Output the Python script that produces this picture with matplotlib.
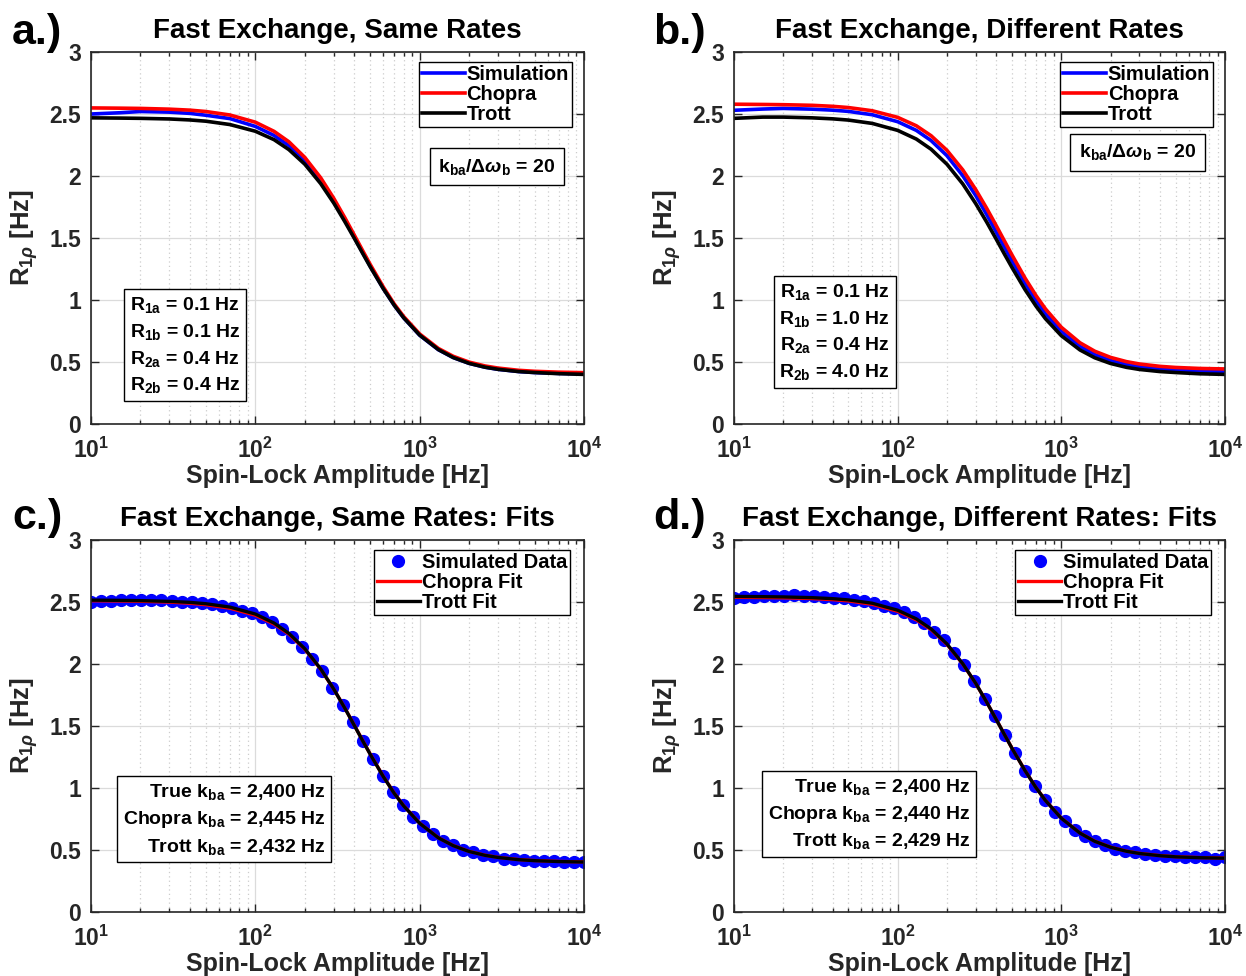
import numpy as np
import matplotlib
matplotlib.use("Agg")
import matplotlib.pyplot as plt
from matplotlib.ticker import FixedLocator, FuncFormatter, NullFormatter

# ---------------- data ----------------
# dense grid used for the model curves (Hz)
grid_hz = [10, 15, 20, 30, 40, 50, 70, 100, 130, 160, 200, 250, 300, 350, 400,
           450, 500, 600, 700, 800, 1000, 1300, 1600, 2000, 2500, 3000, 4000,
           5000, 7000, 10000]

# panel a: same relaxation rates
a_sim = [2.50, 2.51, 2.52, 2.515, 2.505, 2.49, 2.463, 2.40, 2.327, 2.245, 2.121,
         1.958, 1.797, 1.645, 1.506, 1.382, 1.273, 1.094, 0.958, 0.856, 0.716,
         0.599, 0.536, 0.489, 0.458, 0.441, 0.423, 0.415, 0.408, 0.404]
a_chopra = [2.549, 2.547, 2.545, 2.539, 2.531, 2.520, 2.492, 2.434, 2.360, 2.276,
            2.150, 1.985, 1.820, 1.665, 1.524, 1.398, 1.287, 1.106, 0.968, 0.866,
            0.726, 0.609, 0.546, 0.499, 0.468, 0.451, 0.433, 0.425, 0.418, 0.414]
a_trott = [2.469, 2.467, 2.465, 2.460, 2.452, 2.442, 2.415, 2.361, 2.293, 2.213,
           2.095, 1.938, 1.782, 1.633, 1.498, 1.376, 1.268, 1.092, 0.958, 0.856,
           0.717, 0.600, 0.536, 0.489, 0.458, 0.441, 0.423, 0.415, 0.406, 0.400]

# panel b: different relaxation rates
b_sim = [2.53, 2.54, 2.545, 2.539, 2.531, 2.521, 2.494, 2.438, 2.368, 2.286,
         2.164, 2.002, 1.842, 1.689, 1.549, 1.424, 1.313, 1.132, 0.994, 0.889,
         0.746, 0.626, 0.560, 0.512, 0.480, 0.462, 0.444, 0.435, 0.428, 0.424]
b_chopra = [2.579, 2.577, 2.575, 2.570, 2.562, 2.552, 2.526, 2.473, 2.405, 2.325,
            2.207, 2.049, 1.890, 1.739, 1.600, 1.474, 1.362, 1.177, 1.036, 0.928,
            0.780, 0.655, 0.587, 0.537, 0.503, 0.484, 0.465, 0.456, 0.448, 0.444]
b_trott = [2.465, 2.475, 2.475, 2.469, 2.461, 2.451, 2.424, 2.368, 2.298, 2.216,
           2.095, 1.936, 1.777, 1.628, 1.491, 1.368, 1.261, 1.084, 0.951, 0.849,
           0.712, 0.597, 0.534, 0.488, 0.457, 0.440, 0.423, 0.415, 0.405, 0.400]

# simulated data points (log-spaced spin-lock amplitudes, Hz)
pts_hz = [10.0, 11.5, 13.3, 15.3, 17.6, 20.2, 23.3, 26.8, 30.9, 35.6,
          40.9, 47.1, 54.3, 62.5, 72.0, 82.9, 95.4, 109.9, 126.5, 145.6,
          167.7, 193.1, 222.3, 256.0, 294.7, 339.3, 390.7, 449.8, 518.0, 596.4,
          686.6, 790.6, 910.3, 1048.1, 1206.8, 1389.5, 1599.9, 1842.1, 2120.9, 2442.1,
          2811.8, 3237.5, 3727.6, 4291.9, 4941.7, 5689.9, 6551.3, 7543.1, 8685.1, 10000.0]
c_pts = [2.50, 2.51, 2.51, 2.52, 2.52, 2.52, 2.52, 2.52, 2.51, 2.50,
         2.50, 2.49, 2.48, 2.47, 2.45, 2.43, 2.41, 2.38, 2.34, 2.28,
         2.22, 2.14, 2.04, 1.94, 1.81, 1.67, 1.53, 1.38, 1.23, 1.10,
         0.97, 0.86, 0.77, 0.69, 0.63, 0.57, 0.54, 0.50, 0.48, 0.46,
         0.45, 0.43, 0.43, 0.42, 0.41, 0.41, 0.41, 0.40, 0.40, 0.40]
d_pts = [2.53, 2.54, 2.54, 2.55, 2.55, 2.55, 2.56, 2.55, 2.55, 2.54,
         2.53, 2.53, 2.52, 2.51, 2.49, 2.47, 2.45, 2.42, 2.38, 2.33,
         2.26, 2.19, 2.09, 1.99, 1.86, 1.72, 1.58, 1.43, 1.28, 1.14,
         1.02, 0.90, 0.81, 0.73, 0.66, 0.61, 0.57, 0.54, 0.51, 0.49,
         0.48, 0.47, 0.46, 0.45, 0.45, 0.44, 0.44, 0.44, 0.43, 0.44]

# fitted curves
c_chopra_fit = [2.510, 2.508, 2.506, 2.499, 2.490, 2.478, 2.450, 2.393, 2.322, 2.241,
                2.119, 1.958, 1.798, 1.646, 1.507, 1.383, 1.274, 1.095, 0.959, 0.857,
                0.716, 0.599, 0.536, 0.489, 0.458, 0.441, 0.423, 0.415, 0.408, 0.404]
c_trott_fit = [2.515, 2.513, 2.511, 2.505, 2.497, 2.486, 2.459, 2.403, 2.330, 2.247,
               2.123, 1.960, 1.798, 1.645, 1.505, 1.381, 1.272, 1.093, 0.957, 0.855,
               0.715, 0.598, 0.535, 0.488, 0.457, 0.440, 0.422, 0.414, 0.407, 0.403]
d_chopra_fit = [2.538, 2.536, 2.534, 2.528, 2.519, 2.509, 2.481, 2.425, 2.356, 2.277,
                2.158, 2.000, 1.843, 1.692, 1.554, 1.430, 1.320, 1.141, 1.004, 0.900,
                0.757, 0.637, 0.571, 0.523, 0.491, 0.473, 0.455, 0.446, 0.439, 0.435]
d_trott_fit = [2.545, 2.543, 2.541, 2.535, 2.527, 2.517, 2.490, 2.434, 2.364, 2.283,
               2.162, 2.002, 1.844, 1.692, 1.553, 1.429, 1.319, 1.140, 1.003, 0.899,
               0.756, 0.636, 0.570, 0.522, 0.490, 0.472, 0.454, 0.445, 0.438, 0.434]

# annotation values
rates_same = {"1a": "0.1", "1b": "0.1", "2a": "0.4", "2b": "0.4"}
rates_diff = {"1a": "0.1", "1b": "1.0", "2a": "0.4", "2b": "4.0"}
kba_ratio = 20
kba_same = [("True", "=", "2,400"), ("Chopra", "=", "2,445"), ("Trott", "=", "2,432")]
kba_diff = [("True", "=", "2,400"), ("Chopra", "=", "2,440"), ("Trott", "=", "2,429")]

titles = ["Fast Exchange, Same Rates", "Fast Exchange, Different Rates",
          "Fast Exchange, Same Rates: Fits", "Fast Exchange, Different Rates: Fits"]
panel_tags = ["a.)", "b.)", "c.)", "d.)"]
y_ticks = [0, 0.5, 1, 1.5, 2, 2.5, 3]
x_ticks = [10, 100, 1000, 10000]

# ---------------- style ----------------
plt.rcParams.update({
    "font.family": "Liberation Sans",
    "font.weight": "bold",
    "axes.labelweight": "bold",
    "axes.titleweight": "bold",
    "mathtext.fontset": "custom",
    "mathtext.rm": "Liberation Sans:bold",
    "mathtext.bf": "Liberation Sans:bold",
    "mathtext.it": "Liberation Sans:italic",
    "mathtext.default": "bf",
})

AX_COL = "0.15"
BLUE, RED, BLACK = "#0000ff", "#ff0000", "#000000"

W, H = 1246, 976
fig = plt.figure(figsize=(W / 100, H / 100), dpi=100)


def px_axes(x0, x1, y0, y1):
    return fig.add_axes([x0 / W, 1 - y1 / H, (x1 - x0) / W, (y1 - y0) / H])


axes = [px_axes(91, 584, 52, 424), px_axes(734, 1225, 52, 424),
        px_axes(91, 584, 540, 912), px_axes(734, 1225, 540, 912)]


def style_axes(ax, title):
    ax.set_xscale("log")
    ax.set_xlim(10, 1e4)
    ax.set_ylim(0, 3)
    ax.xaxis.set_major_locator(FixedLocator(x_ticks))
    ax.xaxis.set_major_formatter(FuncFormatter(
        lambda v, _: r"$\mathbf{10^{%d}}$" % int(round(np.log10(v)))))
    ax.xaxis.set_minor_locator(FixedLocator(
        [m * 10 ** e for e in range(1, 4) for m in range(2, 10)]))
    ax.xaxis.set_minor_formatter(NullFormatter())
    ax.yaxis.set_major_locator(FixedLocator(y_ticks))
    ax.yaxis.set_major_formatter(FuncFormatter(lambda v, _: "%g" % v))
    ax.grid(which="major", color="0.86", lw=0.9, ls="-")
    ax.grid(which="minor", axis="x", color="0.8", lw=0.9, ls=(0, (1, 2.5)))
    ax.set_axisbelow(True)
    ax.tick_params(which="both", direction="in", top=True, right=True,
                   color=AX_COL, labelcolor=AX_COL, labelsize=16.5, width=1.0)
    ax.tick_params(which="major", length=6)
    ax.tick_params(axis="y", which="major", pad=7)
    ax.tick_params(axis="x", which="major", pad=10)
    ax.tick_params(which="minor", length=3)
    for s in ax.spines.values():
        s.set_color(AX_COL)
        s.set_linewidth(1.2)
    ax.set_title(title, fontsize=20, fontweight="bold", pad=10)
    ax.set_xlabel("Spin-Lock Amplitude [Hz]", fontsize=18, fontweight="bold",
                  color=AX_COL, labelpad=1)
    ax.set_ylabel(r"R$_{\mathbf{1}\mathit{\rho}}$ [Hz]", fontsize=18.5,
                  fontweight="bold", color=AX_COL, labelpad=7)


for ax, t in zip(axes, titles):
    style_axes(ax, t)

box = dict(boxstyle="square,pad=0.3", fc="white", ec="black", lw=1.0)


def legend(ax, right, top):
    lg = ax.legend(loc="upper right", bbox_to_anchor=(right, top), borderaxespad=0,
                   fontsize=14.5, frameon=True, fancybox=False, edgecolor="black",
                   framealpha=1, handlelength=2.1, handletextpad=0.1, borderpad=0.15,
                   labelspacing=0.05, numpoints=1)
    lg.get_frame().set_linewidth(1.0)


def rates_text(r):
    return "\n".join(r"R$_{\mathbf{%s}}$ = %s Hz" % (k, v) for k, v in r.items())


def kba_text(rows):
    return "\n".join(r"%s k$_{\mathbf{ba}}$ %s %s Hz" % row for row in rows)


ratio_text = r"k$_{\mathbf{ba}}$/Δ$\mathit{\omega}_{\mathbf{b}}$ = %d" % kba_ratio

# ---- a & b: model comparison ----
for ax, sim, cho, tro, rates, rbox, kbox in [
        (axes[0], a_sim, a_chopra, a_trott, rates_same, (0.191, 0.212), (0.8235, 0.692)),
        (axes[1], b_sim, b_chopra, b_trott, rates_diff, (0.205, 0.247), (0.822, 0.730))]:
    ax.plot(grid_hz, sim, color=BLUE, lw=2.6, label="Simulation")
    ax.plot(grid_hz, cho, color=RED, lw=2.6, label="Chopra")
    ax.plot(grid_hz, tro, color=BLACK, lw=2.6, label="Trott")
    legend(ax, 0.9757, 0.973)
    ax.text(*rbox, rates_text(rates), transform=ax.transAxes, ha="center", va="center",
            fontsize=14, linespacing=1.45, bbox=box, zorder=5)
    ax.text(*kbox, ratio_text, transform=ax.transAxes, ha="center", va="center",
            fontsize=14, bbox=dict(boxstyle="square,pad=0.45", fc="white", ec="black",
                                   lw=1.0), zorder=5)

# ---- c & d: fits ----
for ax, pts, cfit, tfit, rows, kbox in [
        (axes[2], c_pts, c_chopra_fit, c_trott_fit, kba_same, (0.270, 0.249)),
        (axes[3], d_pts, d_chopra_fit, d_trott_fit, kba_diff, (0.275, 0.263))]:
    ax.plot(pts_hz, pts, "o", ms=8.5, color=BLUE, mec=BLUE, label="Simulated Data")
    ax.plot(grid_hz, cfit, color=RED, lw=2.4, label="Chopra Fit")
    ax.plot(grid_hz, tfit, color=BLACK, lw=2.4, label="Trott Fit")
    legend(ax, 0.9716, 0.973)
    ax.text(*kbox, kba_text(rows), transform=ax.transAxes, ha="center", va="center",
            multialignment="right", fontsize=14, linespacing=1.45, bbox=box, zorder=5)

# panel tags
for tag, (x, y) in zip(panel_tags, [(12, 33), (653, 33), (12, 518), (653, 518)]):
    fig.text(x / W, 1 - y / H, tag, fontsize=31, fontweight="bold", ha="left",
             va="center")

fig.savefig("out.png", dpi=100)
